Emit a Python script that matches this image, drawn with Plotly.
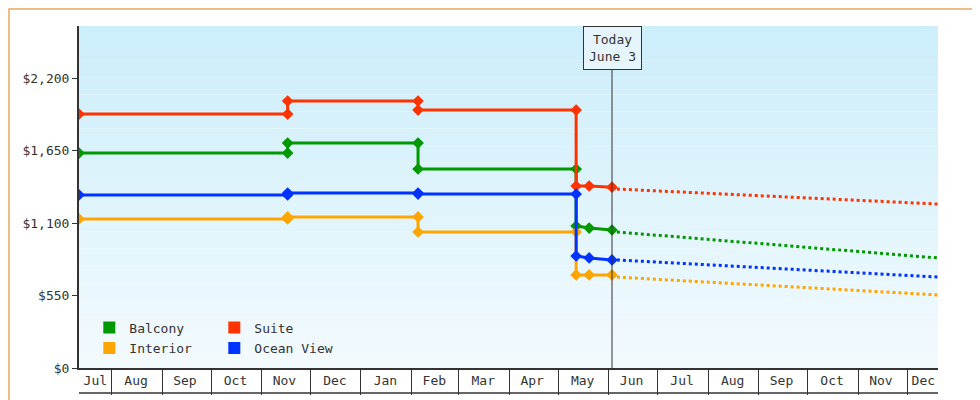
import plotly.graph_objects as go

# historical price steps (date, price)
hist_dates = ["2023-07-12", "2023-11-17", "2023-11-17", "2024-02-05", "2024-02-05",
              "2024-05-12", "2024-05-12", "2024-05-20", "2024-06-03"]
suite = [1927, 1927, 2026, 2026, 1957, 1957, 1381, 1381, 1372]
balcony = [1631, 1631, 1707, 1707, 1510, 1510, 1077, 1062, 1047]
ocean = [1313, 1313, 1328, 1328, 1320, 1320, 850, 835, 820]
interior = [1131, 1131, 1146, 1146, 1032, 1032, 706, 706, 706]

# forecast endpoints
fc_dates = ["2024-06-06", "2024-12-20"]
suite_fc = [1358, 1244]
balcony_fc = [1032, 835]
ocean_fc = [820, 690]
interior_fc = [690, 554]

names = ["Balcony", "Suite", "Interior", "Ocean View"]
colors = ["#009900", "#ff3300", "#ffa500", "#0033ff"]
hist = [balcony, suite, interior, ocean]
fc = [balcony_fc, suite_fc, interior_fc, ocean_fc]

y_ticks = [0, 550, 1100, 1650, 2200]
y_labels = ["$0", "$550", "$1,100", "$1,650", "$2,200"]

month_starts = ["2023-08-01", "2023-09-01", "2023-10-01", "2023-11-01", "2023-12-01",
                "2024-01-01", "2024-02-01", "2024-03-01", "2024-04-01", "2024-05-01",
                "2024-06-01", "2024-07-01", "2024-08-01", "2024-09-01", "2024-10-01",
                "2024-11-01", "2024-12-01"]
label_dates = ["2023-07-22", "2023-08-16", "2023-09-15", "2023-10-16", "2023-11-15",
               "2023-12-16", "2024-01-16", "2024-02-15", "2024-03-16", "2024-04-15",
               "2024-05-16", "2024-06-15", "2024-07-16", "2024-08-16", "2024-09-15",
               "2024-10-16", "2024-11-15", "2024-12-11"]
month_labels = ["Jul", "Aug", "Sep", "Oct", "Nov", "Dec", "Jan", "Feb", "Mar", "Apr",
                "May", "Jun", "Jul", "Aug", "Sep", "Oct", "Nov", "Dec"]

today = "2024-06-03"
font = "DejaVu Sans Mono"

fig = go.Figure()
for n, c, h, f in zip(names, colors, hist, fc):
    fig.add_trace(go.Scatter(x=hist_dates, y=h, mode="lines+markers", showlegend=False,
                             line=dict(color=c, width=3),
                             marker=dict(symbol="diamond", size=9, color=c)))
    fig.add_trace(go.Scatter(x=fc_dates, y=f, mode="lines", showlegend=False,
                             line=dict(color=c, width=3, dash="dot")))

for i, (n, c) in enumerate(zip(names, colors)):
    fig.add_trace(go.Scatter(x=[None], y=[None], mode="markers", name=n,
                             marker=dict(symbol="square", size=12, color=c),
                             legend="legend" if i < 2 else "legend2"))

# dummy trace for month label axis
fig.add_trace(go.Scatter(x=[label_dates[0]], y=[None], xaxis="x2", showlegend=False))

# gradient background
nb = 20
for i in range(nb):
    t = i / (nb - 1)
    r = int(0xcd + (0xf2 - 0xcd) * t)
    g = int(0xee + (0xfa - 0xee) * t)
    b = int(0xfb + (0xfe - 0xfb) * t)
    fig.add_shape(type="rect", xref="paper", yref="paper", x0=0, x1=1,
                  y0=1 - (i + 1) / nb, y1=1 - i / nb, fillcolor=f"rgb({r},{g},{b})",
                  line_width=0, layer="below")

# outer border
fig.add_shape(type="rect", xref="paper", yref="paper", x0=-70 / 859, x1=908 / 859,
              y0=-39 / 342, y1=1 + 17 / 342, line=dict(color="#e8a860", width=1.5))
# bottom line of month boxes
fig.add_shape(type="line", xref="paper", yref="paper", x0=0, x1=1,
              y0=-25 / 342, y1=-25 / 342, line=dict(color="#333", width=1.5))
# today line
fig.add_shape(type="line", xref="x", yref="paper", x0=today, x1=today,
              y0=0, y1=1 - 40 / 342, line=dict(color="#333", width=1))
fig.add_annotation(x=today, xref="x", yref="paper", y=1 - 22 / 342, yanchor="middle",
                   text="Today<br>June 3", showarrow=False, bgcolor="#e6f5fb",
                   bordercolor="#333", borderwidth=1, borderpad=5,
                   font=dict(family=font, size=13, color="#333"))

fig.update_layout(
    width=980, height=400,
    margin=dict(l=71, r=50, t=18, b=40, autoexpand=False),
    paper_bgcolor="white", plot_bgcolor="rgba(0,0,0,0)",
    font=dict(family=font, size=13, color="#333"),
    xaxis=dict(type="date", range=["2023-07-12", "2024-12-20"], tickvals=month_starts,
               showticklabels=False, ticks="outside", ticklen=25, tickcolor="#333",
               showgrid=False, showline=True, linecolor="#333", linewidth=1.5,
               zeroline=False, automargin=False),
    xaxis2=dict(type="date", overlaying="x", matches="x", side="bottom",
                tickvals=label_dates, ticktext=month_labels, ticks="", showgrid=False,
                showline=False, zeroline=False, ticklabelstandoff=3, automargin=False),
    yaxis=dict(range=[0, 2595], tickvals=y_ticks, ticktext=y_labels,
               ticks="outside", ticklen=5, tickcolor="#333", automargin=False,
               showgrid=False, showline=True, linecolor="#333", linewidth=2, zeroline=False),
    legend=dict(orientation="h", x=0.012, y=0.118, xanchor="left", yanchor="middle",
                bgcolor="rgba(0,0,0,0)", itemwidth=30, entrywidth=80,
                font=dict(family=font, size=13)),
    legend2=dict(orientation="h", x=0.012, y=0.058, xanchor="left", yanchor="middle",
                 bgcolor="rgba(0,0,0,0)", itemwidth=30, entrywidth=80,
                 font=dict(family=font, size=13)),
)

fig.write_html("out.html")
